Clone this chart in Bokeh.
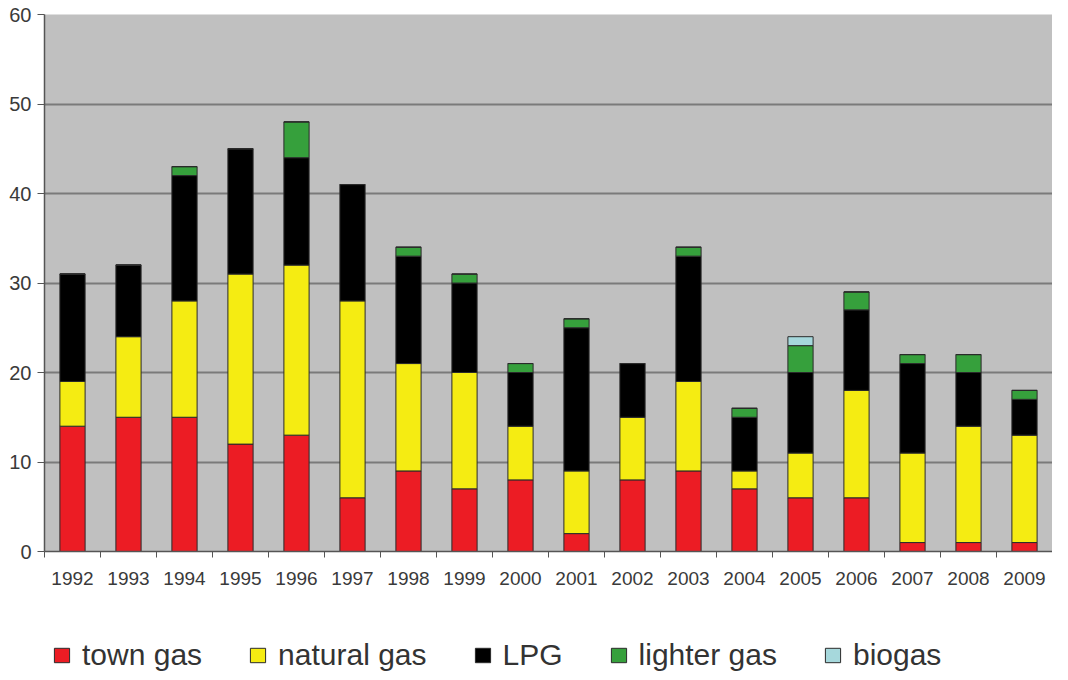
from bokeh.plotting import figure
from bokeh.models import ColumnDataSource, Range1d, FixedTicker, Legend, LegendItem
from bokeh.layouts import column
from bokeh.embed import file_html
from bokeh.resources import INLINE

years = [1992, 1993, 1994, 1995, 1996, 1997, 1998, 1999, 2000,
         2001, 2002, 2003, 2004, 2005, 2006, 2007, 2008, 2009]
town_gas = [14, 15, 15, 12, 13, 6, 9, 7, 8, 2, 8, 9, 7, 6, 6, 1, 1, 1]
natural_gas = [5, 9, 13, 19, 19, 22, 12, 13, 6, 7, 7, 10, 2, 5, 12, 10, 13, 12]
lpg = [12, 8, 14, 14, 12, 13, 12, 10, 6, 16, 6, 14, 6, 9, 9, 10, 6, 4]
lighter_gas = [0, 0, 1, 0, 4, 0, 1, 1, 1, 1, 0, 1, 1, 3, 2, 1, 2, 1]
biogas = [0, 0, 0, 0, 0, 0, 0, 0, 0, 0, 0, 0, 0, 1, 0, 0, 0, 0]

series = ["town gas", "natural gas", "LPG", "lighter gas", "biogas"]
colors = ["#ec1c24", "#f5ec12", "#000000", "#36a03c", "#a6d8dc"]

source = ColumnDataSource(data={
    "year": years,
    "town gas": town_gas,
    "natural gas": natural_gas,
    "LPG": lpg,
    "lighter gas": lighter_gas,
    "biogas": biogas,
})

FONT = "Liberation Sans"
OUTLINE = "#2a2a2a"

p = figure(width=1052, height=612, output_backend="svg", toolbar_location=None,
           x_range=Range1d(years[0] - 0.5, years[-1] + 0.5),
           y_range=Range1d(0, 60),
           min_border_left=44, min_border_right=0, min_border_top=14,
           min_border_bottom=61)
p.background_fill_color = "#c0c0c0"
p.border_fill_color = "white"
p.outline_line_color = None

p.vbar_stack(series, x="year", width=0.45, source=source,
             color=colors, line_color=OUTLINE, line_width=1)

# axes
p.xaxis.ticker = FixedTicker(ticks=years,
                             minor_ticks=[y - 0.5 for y in years] + [years[-1] + 0.5])
p.xaxis.major_tick_out = 0
p.xaxis.major_tick_in = 0
p.xaxis.minor_tick_out = 6
p.xaxis.minor_tick_in = 0
p.xaxis.minor_tick_line_color = "#555555"
p.xaxis.axis_line_color = "#555555"
p.xaxis.axis_line_width = 1.5
p.xaxis.major_label_text_font = FONT
p.xaxis.major_label_text_font_size = "19px"
p.xaxis.major_label_text_color = "#3a3a3a"
p.xaxis.major_label_standoff = 14

p.yaxis.ticker = FixedTicker(ticks=[0, 10, 20, 30, 40, 50, 60])
p.yaxis.major_tick_out = 7
p.yaxis.major_tick_in = 0
p.yaxis.minor_tick_out = 0
p.yaxis.minor_tick_in = 0
p.yaxis.major_tick_line_color = "#555555"
p.yaxis.axis_line_color = "#555555"
p.yaxis.axis_line_width = 1.5
p.yaxis.major_label_text_font = FONT
p.yaxis.major_label_text_font_size = "20px"
p.yaxis.major_label_text_color = "#3a3a3a"
p.yaxis.major_label_standoff = 6

p.xgrid.grid_line_color = None
p.ygrid.grid_line_color = "#7a7a7a"
p.ygrid.grid_line_width = 2

# legend strip below the chart (its own renderers share the data but are out of view)
lg = figure(width=1052, height=60, output_backend="svg", toolbar_location=None,
            x_range=Range1d(0, 1), y_range=Range1d(0, 1),
            x_axis_location=None, y_axis_location=None,
            min_border_left=0, min_border_right=0, min_border_top=0,
            min_border_bottom=0)
lg.grid.visible = False
lg.outline_line_color = None
lg.background_fill_color = "white"
lg.border_fill_color = "white"

lg_renderers = lg.vbar_stack(series, x="year", width=0.45, source=source,
                             color=colors, line_color=OUTLINE, line_width=1)

legend = Legend(items=[LegendItem(label=s, renderers=[r])
                       for s, r in zip(series, lg_renderers)],
                orientation="horizontal", location=(8, 0),
                label_text_font=FONT, label_text_font_size="30px",
                label_text_color="#333333",
                glyph_width=19, glyph_height=18, label_standoff=11,
                spacing=46, padding=0, margin=0,
                background_fill_alpha=0, border_line_color=None)
lg.add_layout(legend, "center")

layout = column(p, lg, spacing=0)
open("out.html", "w").write(file_html(layout, INLINE))
